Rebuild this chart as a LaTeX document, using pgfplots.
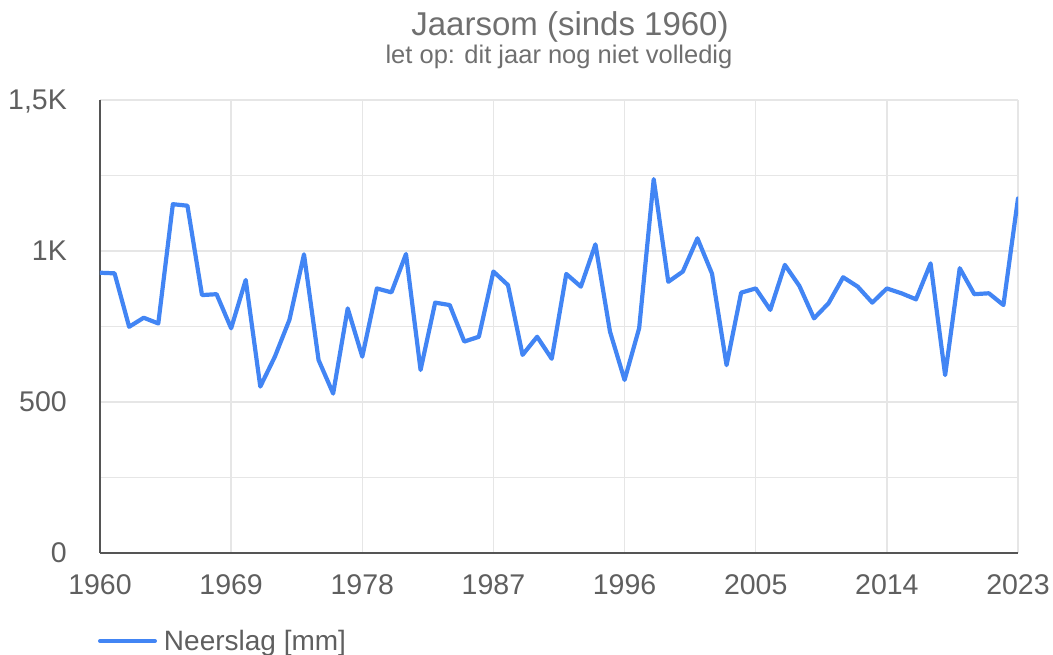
\documentclass[border=0pt]{standalone}
\usepackage{fontspec}
\setmainfont{Liberation Sans}
\usepackage{pgfplots}
\pgfplotsset{compat=1.18}
\definecolor{lineblue}{HTML}{4285F4}
\definecolor{gridgray}{HTML}{E6E6E6}
\definecolor{axisgray}{HTML}{555555}
\definecolor{ticktext}{HTML}{5F5F5F}
\definecolor{titletext}{HTML}{6F6F6F}
\begin{document}
\begin{tikzpicture}[x=1pt,y=1pt]
\path[use as bounding box] (0,0) rectangle (1053,655);
\node[anchor=base, font=\fontsize{33}{40}\selectfont, text=titletext, inner sep=0pt] at (570,619) {Jaarsom (sinds 1960)};
\node[anchor=base, font=\fontsize{25.5}{30}\selectfont, text=titletext, inner sep=0pt] at (559,591) {let op: dit jaar nog niet volledig};
\begin{axis}[
  at={(100pt,102pt)}, anchor=south west,
  scale only axis, width=918pt, height=453pt,
  xmin=1960, xmax=2023, ymin=0, ymax=1500,
  axis x line=bottom, axis y line=left,
  axis line style={-, draw=axisgray, line width=1.8pt},
  xtick={1960,1969,1978,1987,1996,2005,2014,2023},
  xticklabels={1960,1969,1978,1987,1996,2005,2014,2023},
  ytick={0,500,1000,1500},
  yticklabels={0,500,1K,{1,5K}},
  minor ytick={250,750,1250},
  grid=both,
  major grid style={draw=gridgray, line width=1.3pt},
  minor grid style={draw=gridgray, line width=1.3pt},
  major tick length=0pt, minor tick length=0pt,
  tick style={draw=none},
  /pgf/number format/assume math mode=true,
  ticklabel style={font=\fontsize{28.5}{32}\selectfont, text=ticktext, inner sep=0pt},
  yticklabel style={anchor=east, xshift=-33pt, text depth=0pt},
  xticklabel style={anchor=north, yshift=-21pt},
  legend style={at={(axis description cs:0,0)}, anchor=west, yshift=-88pt, xshift=-2pt,
    draw=none, fill=none, inner sep=0pt, outer sep=0pt,
    font=\fontsize{28}{32}\selectfont, text=ticktext,
    /tikz/every even column/.append style={column sep=0pt}},
  legend cell align=left,
  legend image code/.code={\draw[#1, line width=4pt] (0pt,0pt) -- (55pt,0pt);},
  clip=true,
]
\addplot[color=lineblue, line width=4.2pt, line join=round, line cap=round, mark=none] coordinates {
(1960,928) (1961,926) (1962,749) (1963,779) (1964,760) (1965,1155) (1966,1150) (1967,854)
(1968,857) (1969,744) (1970,904) (1971,551) (1972,650) (1973,772) (1974,989) (1975,639)
(1976,528) (1977,810) (1978,650) (1979,876) (1980,863) (1981,990) (1982,606) (1983,829)
(1984,821) (1985,700) (1986,716) (1987,932) (1988,887) (1989,656) (1990,716) (1991,643)
(1992,924) (1993,882) (1994,1022) (1995,733) (1996,573) (1997,744) (1998,1238) (1999,898)
(2000,932) (2001,1042) (2002,925) (2003,622) (2004,862) (2005,876) (2006,805) (2007,954)
(2008,884) (2009,777) (2010,827) (2011,913) (2012,882) (2013,829) (2014,876) (2015,860)
(2016,840) (2017,959) (2018,589) (2019,943) (2020,857) (2021,860) (2022,821) (2023,1174)
};
\addlegendentry{\hspace{5pt}Neerslag [mm]}
\end{axis}
\end{tikzpicture}
\end{document}
